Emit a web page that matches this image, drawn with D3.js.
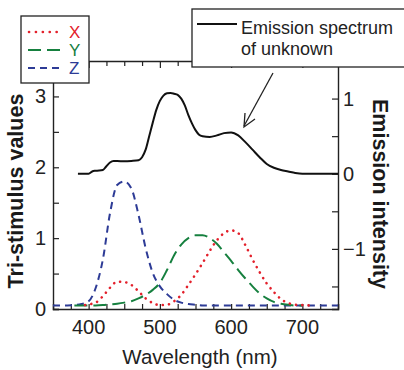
<!DOCTYPE html>
<html><head><meta charset="utf-8">
<script src="https://cdn.jsdelivr.net/npm/d3@7"></script>
<style>body{margin:0;background:#fff}svg{display:block}text{font-family:"Liberation Sans",Arial,Helvetica,sans-serif}</style>
</head><body><svg id="c" width="404" height="370"></svg>
<script>
// ---- data ----
const wlX = [395,400,410,420,430,440,450,460,470,480,490,500,510,520,530,540,550,560,570,580,590,600,610,620,630,640,650,660,670,680,690,700,710];
const valX = [0.055,0.065,0.09,0.18,0.3,0.385,0.38,0.34,0.25,0.15,0.085,0.055,0.06,0.11,0.2,0.34,0.49,0.65,0.82,0.97,1.07,1.11,1.07,0.9,0.7,0.52,0.36,0.24,0.14,0.085,0.06,0.055,0.05];
const wlY = [380,390,400,410,420,430,440,450,460,470,480,490,500,510,520,530,540,550,560,570,580,590,600,610,620,630,640,650,660,670,680,690,700];
const valY = [0.05,0.05,0.05,0.05,0.055,0.065,0.075,0.09,0.11,0.15,0.2,0.27,0.37,0.55,0.76,0.91,1.0,1.04,1.04,1.0,0.92,0.8,0.68,0.55,0.43,0.32,0.22,0.15,0.1,0.075,0.06,0.05,0.05];
const wlZ = [350,360,370,380,390,400,410,420,430,440,450,460,470,480,490,500,510,520,530,540,550,560,580,600,650,700,750];
const valZ = [0.05,0.05,0.05,0.055,0.07,0.11,0.3,0.7,1.35,1.75,1.8,1.7,1.33,0.86,0.51,0.32,0.21,0.13,0.09,0.07,0.06,0.05,0.05,0.05,0.05,0.05,0.05];
const wlE = [385,400,405,410,420,425,430,435,440,450,460,470,475,480,485,490,495,500,505,510,515,520,525,530,535,540,545,550,555,560,570,580,590,600,610,620,630,640,650,660,670,680,690,700,720,750];
const valE = [0,0,0.03,0.04,0.05,0.1,0.15,0.17,0.17,0.165,0.17,0.18,0.22,0.32,0.5,0.68,0.85,0.97,1.04,1.07,1.075,1.065,1.05,1.0,0.91,0.78,0.67,0.58,0.52,0.5,0.49,0.51,0.54,0.55,0.51,0.42,0.32,0.22,0.13,0.08,0.05,0.03,0.01,0,0,0];
const xTicks = [400,500,600,700];
const leftTicks = [0,1,2,3];
const rightTicks = [-1,0,1];
const legendLabels = ["X","Y","Z"];
const annotationLines = ["Emission spectrum","of unknown"];
const xTitle = "Wavelength (nm)", yTitle = "Tri-stimulus values", y2Title = "Emission intensity";

// ---- layout ----
const L=53,R=338,T=61,B=309;
const svg=d3.select("#c");
const x=d3.scaleLinear().domain([350,750]).range([L,R]);
const yL=d3.scaleLinear().domain([0,3.5]).range([B,T]);
const yR=d3.scaleLinear().domain([-1.8,1.5]).range([B,T]);
const colors={X:"#e3202b",Y:"#16803f",Z:"#2d3b96"};
const dash={X:"0.1 6.2",Y:"13 6",Z:"7 5"};
const cap={X:"round",Y:"butt",Z:"butt"};
const widths={X:2.6,Y:2,Z:2};

// axes
const minorX=d3.range(375,751,25);
const axisG=svg.append("g");
const bx=d3.axisBottom(x).tickValues(minorX).tickSize(-5).tickFormat("");
axisG.append("g").attr("transform",`translate(0,${B})`).call(bx);
const tx=d3.axisTop(x).tickValues(minorX).tickSize(-5).tickFormat("");
const topG=axisG.append("g").attr("transform",`translate(0,${T})`).call(tx);
topG.selectAll(".tick line").attr("y2",d=>d%100===0?7:5);
const ly=d3.axisLeft(yL).tickValues(d3.range(0,3.51,0.5)).tickSize(-6).tickFormat("");
axisG.append("g").attr("transform",`translate(${L},0)`).call(ly);
const ry=d3.axisRight(yR).tickValues(d3.range(-1.5,1.51,0.5)).tickSize(-6).tickFormat("");
axisG.append("g").attr("transform",`translate(${R},0)`).call(ry);
axisG.selectAll("path.domain").attr("stroke","#222").attr("stroke-width",1.4);
axisG.selectAll(".tick line").attr("stroke","#222").attr("stroke-width",1.2);

// tick labels
svg.append("g").selectAll("text").data(xTicks).join("text")
  .attr("x",d=>x(d)).attr("y",334).attr("text-anchor","middle")
  .attr("font-size",20).attr("fill","#222").text(d=>d);
svg.append("g").selectAll("text").data(leftTicks).join("text")
  .attr("x",46).attr("y",d=>yL(d)+7).attr("text-anchor","end")
  .attr("font-size",20).attr("fill","#222").text(d=>d);
svg.append("g").selectAll("text").data(rightTicks).join("text")
  .attr("x",343).attr("y",d=>yR(d)+7).attr("text-anchor","start")
  .attr("font-size",20).attr("fill","#222").text(d=>d<0?"\u2212"+Math.abs(d):d);

// titles
svg.append("text").attr("x",200).attr("y",364).attr("text-anchor","middle")
  .attr("font-size",20.5).attr("fill","#222").text(xTitle);
svg.append("text").attr("transform","translate(23,191) rotate(-90)").attr("text-anchor","middle")
  .attr("font-size",21.5).attr("font-weight","bold").attr("fill","#1a1a1a").text(yTitle);
svg.append("text").attr("transform","translate(373,194) rotate(90)").attr("text-anchor","middle")
  .attr("font-size",21.5).attr("font-weight","bold").attr("fill","#1a1a1a").text(y2Title);

// curves
const line=(ys)=>d3.line().x(d=>x(d[0])).y(d=>ys(d[1])).curve(d3.curveMonotoneX);
const series=[["Z",wlZ,valZ],["Y",wlY,valY],["X",wlX,valX]];
series.forEach(([k,w,v])=>{
  svg.append("path").datum(w.map((d,i)=>[d,v[i]])).attr("d",line(yL))
    .attr("fill","none").attr("stroke",colors[k]).attr("stroke-width",widths[k])
    .attr("stroke-dasharray",dash[k]).attr("stroke-linecap",cap[k]);
});
svg.append("path").datum(wlE.map((d,i)=>[d,valE[i]])).attr("d",line(yR))
  .attr("fill","none").attr("stroke","#111").attr("stroke-width",2);

// legend box
svg.append("rect").attr("x",21).attr("y",16).attr("width",68).attr("height",67)
  .attr("fill","#fff").attr("stroke","#222").attr("stroke-width",1.3);
legendLabels.forEach((k,i)=>{
  const yy=32+i*18;
  svg.append("line").attr("x1",k==="X"?29:28).attr("x2",63).attr("y1",yy).attr("y2",yy)
    .attr("stroke",colors[k]).attr("stroke-width",widths[k])
    .attr("stroke-dasharray",k==="X"?"0.1 6.8":k==="Y"?"13 6":"7 5").attr("stroke-linecap",cap[k]);
  svg.append("text").attr("x",69).attr("y",yy+6).attr("font-size",17).attr("fill",colors[k]).text(k);
});

// annotation box
svg.append("rect").attr("x",192).attr("y",9).attr("width",215).attr("height",58)
  .attr("fill","#fff").attr("stroke","#222").attr("stroke-width",1.3);
svg.append("line").attr("x1",197).attr("x2",237).attr("y1",24).attr("y2",24).attr("stroke","#111").attr("stroke-width",1.8);
annotationLines.forEach((t,i)=>{
  svg.append("text").attr("x",241).attr("y",34+i*21).attr("font-size",18).attr("fill","#222").text(t);
});
// arrow
svg.append("line").attr("x1",273).attr("y1",73).attr("x2",244).attr("y2",126).attr("stroke","#222").attr("stroke-width",1.3);
svg.append("path").attr("d","M245,113 L244,127 L255,119").attr("fill","none").attr("stroke","#222").attr("stroke-width",1.3);
</script></body></html>
